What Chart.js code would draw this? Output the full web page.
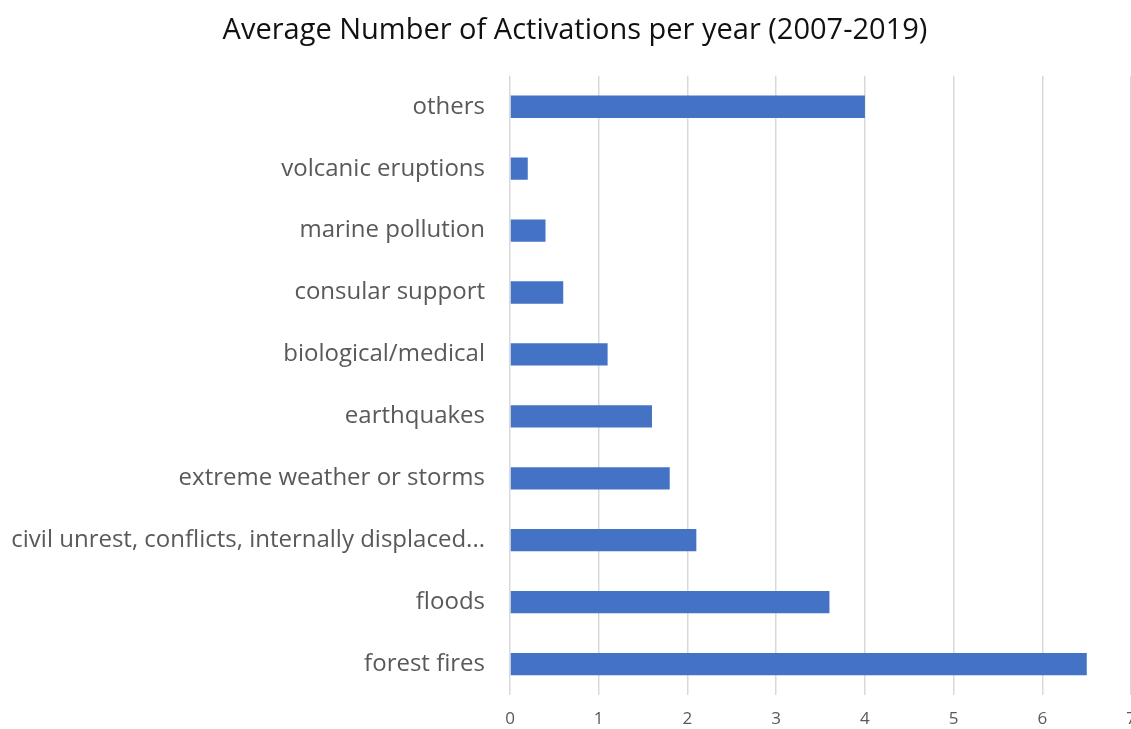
<!DOCTYPE html>
<html>
<head>
<meta charset="utf-8">
<title>Average Number of Activations per year</title>
<script src="https://cdn.jsdelivr.net/npm/chart.js@4"></script>
<style>
    html, body { margin: 0; padding: 0; background: #fff; overflow: hidden; }
    #wrap { width: 1150px; height: 729px; }
</style>
</head>
<body>
<div id="wrap"><canvas id="activationsChart" width="1150" height="729"></canvas></div>
<script>
// Categories listed top to bottom
const categories = [
    'others',
    'volcanic eruptions',
    'marine pollution',
    'consular support',
    'biological/medical',
    'earthquakes',
    'extreme weather or storms',
    'civil unrest, conflicts, internally displaced...',
    'floods',
    'forest fires'
];
const activations = [4.0, 0.2, 0.4, 0.6, 1.1, 1.6, 1.8, 2.1, 3.6, 6.5];
const xTicks = [0, 1, 2, 3, 4, 5, 6, 7];

const labelFont = "'Open Sans', 'Noto Sans', sans-serif";

document.addEventListener('DOMContentLoaded', () => {
    const ctx = document.getElementById('activationsChart').getContext('2d');
    new Chart(ctx, {
        type: 'bar',
        data: {
            labels: categories,
            datasets: [{
                label: 'Activations',
                data: activations,
                backgroundColor: '#4472C4',
                borderWidth: 0,
                categoryPercentage: 0.72,
                barPercentage: 0.5
            }]
        },
        options: {
            indexAxis: 'y',
            responsive: false,
            animation: false,
            layout: {
                padding: { left: 0, right: 0, top: 13, bottom: 0 }
            },
            plugins: {
                legend: { display: false },
                tooltip: { enabled: false },
                title: {
                    display: true,
                    text: 'Average Number of Activations per year (2007-2019)',
                    color: '#111',
                    font: { family: "'Open Sans', sans-serif", size: 29, weight: 'normal' },
                    padding: { top: 0, bottom: 28 }
                }
            },
            scales: {
                x: {
                    min: 0,
                    max: 7,
                    afterBuildTicks: scale => {
                        scale.ticks = xTicks.map(v => ({ value: v }));
                    },
                    afterFit: scale => { scale.height = 34; },
                    border: { display: false },
                    grid: { color: '#d9d9d9', lineWidth: 1.5, drawTicks: false },
                    ticks: {
                        color: '#595959',
                        padding: 14,
                        font: { family: labelFont, size: 17 }
                    }
                },
                y: {
                    afterFit: scale => { scale.width = 510; },
                    border: { display: false },
                    grid: { display: false },
                    ticks: {
                        color: '#595959',
                        padding: 17,
                        autoSkip: false,
                        font: { family: labelFont, size: 24 }
                    }
                }
            }
        }
    });
});
</script>
</body>
</html>
